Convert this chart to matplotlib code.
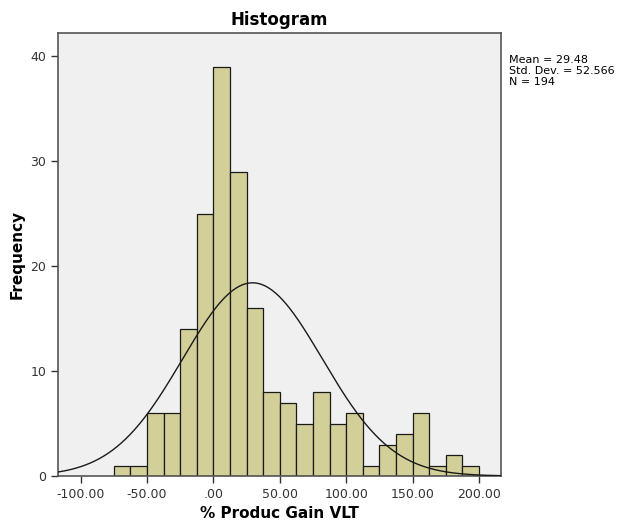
import matplotlib
matplotlib.use("Agg")
import matplotlib.pyplot as plt
import numpy as np

# bin edges (width 12.5) and counts per bin
bin_edges = [-75, -62.5, -50, -37.5, -25, -12.5, 0, 12.5, 25, 37.5, 50, 62.5,
             75, 87.5, 100, 112.5, 125, 137.5, 150, 162.5, 175, 187.5, 200]
counts = [1, 1, 6, 6, 14, 25, 39, 29, 16, 8, 7, 5,
          8, 5, 6, 1, 3, 4, 6, 1, 2, 1]

mean = 29.48
std_dev = 52.566
n_obs = 194

x_ticks = [-100, -50, 0, 50, 100, 150, 200]
x_tick_labels = ["-100.00", "-50.00", ".00", "50.00", "100.00", "150.00", "200.00"]
y_ticks = [0, 10, 20, 30, 40]

fig = plt.figure(figsize=(6.17, 5.24), dpi=100)
ax = fig.add_axes([0.094, 0.0916, 0.718, 0.8454])
ax.set_facecolor("#f0f0f0")

edges = np.array(bin_edges)
widths = np.diff(edges)
ax.bar(edges[:-1], counts, width=widths, align="edge",
       color="#d3cf98", edgecolor="#1a1a1a", linewidth=0.9, zorder=2)

# normal curve scaled to counts
xs = np.linspace(-117, 217, 400)
bw = widths[0]
ys = n_obs * bw / (std_dev * np.sqrt(2 * np.pi)) * np.exp(-0.5 * ((xs - mean) / std_dev) ** 2)
ax.plot(xs, ys, color="#1a1a1a", linewidth=1.0, zorder=3)

ax.set_xlim(-117, 216.6)
ax.set_ylim(0, 42.2)
ax.set_xticks(x_ticks)
ax.set_xticklabels(x_tick_labels)
ax.set_yticks(y_ticks)
ax.tick_params(direction="out", length=5, width=1, color="#333333",
               labelsize=9, labelcolor="#333333")

for s in ax.spines.values():
    s.set_color("#555555")
    s.set_linewidth(1.2)

ax.set_title("Histogram", fontsize=12, fontweight="bold", pad=6)
ax.set_xlabel("% Produc Gain VLT", fontsize=11, fontweight="bold", labelpad=4)
ax.set_ylabel("Frequency", fontsize=11, fontweight="bold", labelpad=4)

fig.text(509 / 617, 1 - 55 / 524,
         "Mean = %.2f\nStd. Dev. = %.3f\nN = %d" % (mean, std_dev, n_obs),
         fontsize=8, va="top", ha="left", linespacing=1.15)

fig.savefig("out.png", dpi=100)
